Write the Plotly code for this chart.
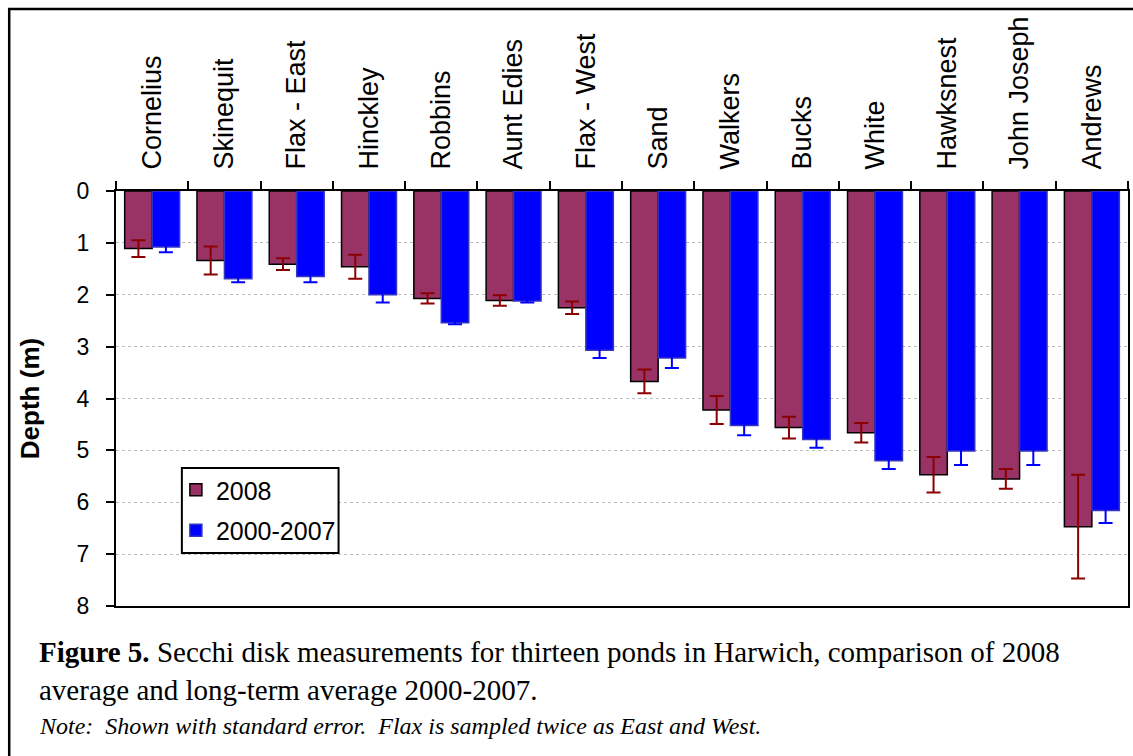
import plotly.graph_objects as go

# Secchi disk depth (m) per pond
ponds = ["Cornelius", "Skinequit", "Flax - East", "Hinckley", "Robbins", "Aunt Edies",
         "Flax - West", "Sand", "Walkers", "Bucks", "White", "Hawksnest",
         "John Joseph", "Andrews"]
depth_2008 = [1.11, 1.34, 1.41, 1.46, 2.07, 2.11, 2.25, 3.67, 4.22, 4.56, 4.66, 5.47, 5.55, 6.47]
se_2008 = [0.16, 0.27, 0.115, 0.23, 0.10, 0.10, 0.12, 0.23, 0.27, 0.21, 0.19, 0.34, 0.19, 1.00]
depth_2000_2007 = [1.08, 1.69, 1.65, 2.00, 2.54, 2.12, 3.07, 3.22, 4.52, 4.79, 5.20, 5.01, 5.01, 6.16]
se_2000_2007 = [0.10, 0.07, 0.11, 0.15, 0.03, 0.03, 0.15, 0.19, 0.19, 0.16, 0.16, 0.27, 0.27, 0.24]
depth_ticks = [0, 1, 2, 3, 4, 5, 6, 7, 8]

W, H = 1133, 756
ML, MR, MT, MB = 116, 3, 191, 150
PW, PH = W - ML - MR, H - MT - MB

def px_x(x):
    return (x - ML) / PW

def px_y(y):
    return (H - MB - y) / PH

SANS = "Liberation Sans, Arial, sans-serif"
SERIF = "Liberation Serif, Times New Roman, serif"

fig = go.Figure()
fig.add_trace(go.Bar(
    name="2008", x=ponds, y=depth_2008, legendgroup="a",
    marker=dict(color="#993366", line=dict(color="#000000", width=1.5)),
    error_y=dict(type="data", array=se_2008, visible=True,
                 color="#8B0000", thickness=2, width=7),
))
fig.add_trace(go.Bar(
    name="2000-2007", x=ponds, y=depth_2000_2007, legendgroup="b",
    marker=dict(color="#0000FF", line=dict(color="#3535C0", width=1.5)),
    error_y=dict(type="data", array=se_2000_2007, visible=True,
                 color="#0000FF", thickness=2, width=7),
))

fig.update_layout(
    width=W, height=H,
    margin=dict(l=ML, r=MR, t=MT, b=MB, pad=0),
    paper_bgcolor="white", plot_bgcolor="white",
    barmode="group", bargap=0.24, bargroupgap=0,
    font=dict(family=SANS, color="black"),
    legend=dict(
        x=px_x(176), y=px_y(467), xanchor="left", yanchor="top",
        bgcolor="rgba(0,0,0,0)", borderwidth=0,
        font=dict(family=SANS, size=25, color="black"),
        traceorder="grouped", tracegroupgap=5,
    ),
    xaxis=dict(
        side="top", type="category",
        showline=True, linecolor="black", linewidth=2, mirror=True,
        ticks="outside", tickson="boundaries", ticklen=8, tickwidth=2, tickcolor="black",
        tickangle=-90, tickfont=dict(family=SANS, size=27, color="black"),
        ticklabelstandoff=14, showgrid=False,
    ),
    yaxis=dict(
        range=[8, 0], tickvals=depth_ticks,
        showline=True, linecolor="black", linewidth=2, mirror=True,
        ticks="outside", ticklen=8, tickwidth=2, tickcolor="black",
        tickfont=dict(family=SANS, size=23, color="black"),
        ticklabelstandoff=12,
        showgrid=True, gridcolor="#bcbcbc", griddash="dot", gridwidth=1,
        zeroline=False,
        title=dict(text="<b>Depth (m)</b>", font=dict(family=SANS, size=26, color="black"),
                   standoff=30),
    ),
    showlegend=True,
)

# outer frame around chart and caption
fig.add_shape(type="rect", xref="paper", yref="paper",
              x0=px_x(9), y0=px_y(H + 20), x1=px_x(W + 20), y1=px_y(9),
              line=dict(color="black", width=2.5), fillcolor="rgba(0,0,0,0)", layer="below")

# legend box
fig.add_shape(type="rect", xref="paper", yref="paper",
              x0=px_x(182), y0=px_y(553), x1=px_x(339), y1=px_y(468),
              line=dict(color="black", width=2), fillcolor="white", layer="above")

fig.add_annotation(xref="paper", yref="paper", x=px_x(37), y=px_y(652),
                   xanchor="left", yanchor="middle", showarrow=False,
                   text="<b>Figure 5.</b> Secchi disk measurements for thirteen ponds in Harwich, comparison of 2008",
                   font=dict(family=SERIF, size=29, color="black"))
fig.add_annotation(xref="paper", yref="paper", x=px_x(37), y=px_y(690),
                   xanchor="left", yanchor="middle", showarrow=False,
                   text="average and long-term average 2000-2007.",
                   font=dict(family=SERIF, size=29, color="black"))
fig.add_annotation(xref="paper", yref="paper", x=px_x(37), y=px_y(726),
                   xanchor="left", yanchor="middle", showarrow=False,
                   text="<i>Note:  Shown with standard error.  Flax is sampled twice as East and West.</i>",
                   font=dict(family=SERIF, size=24, color="black"))

fig.write_html("out.html")
